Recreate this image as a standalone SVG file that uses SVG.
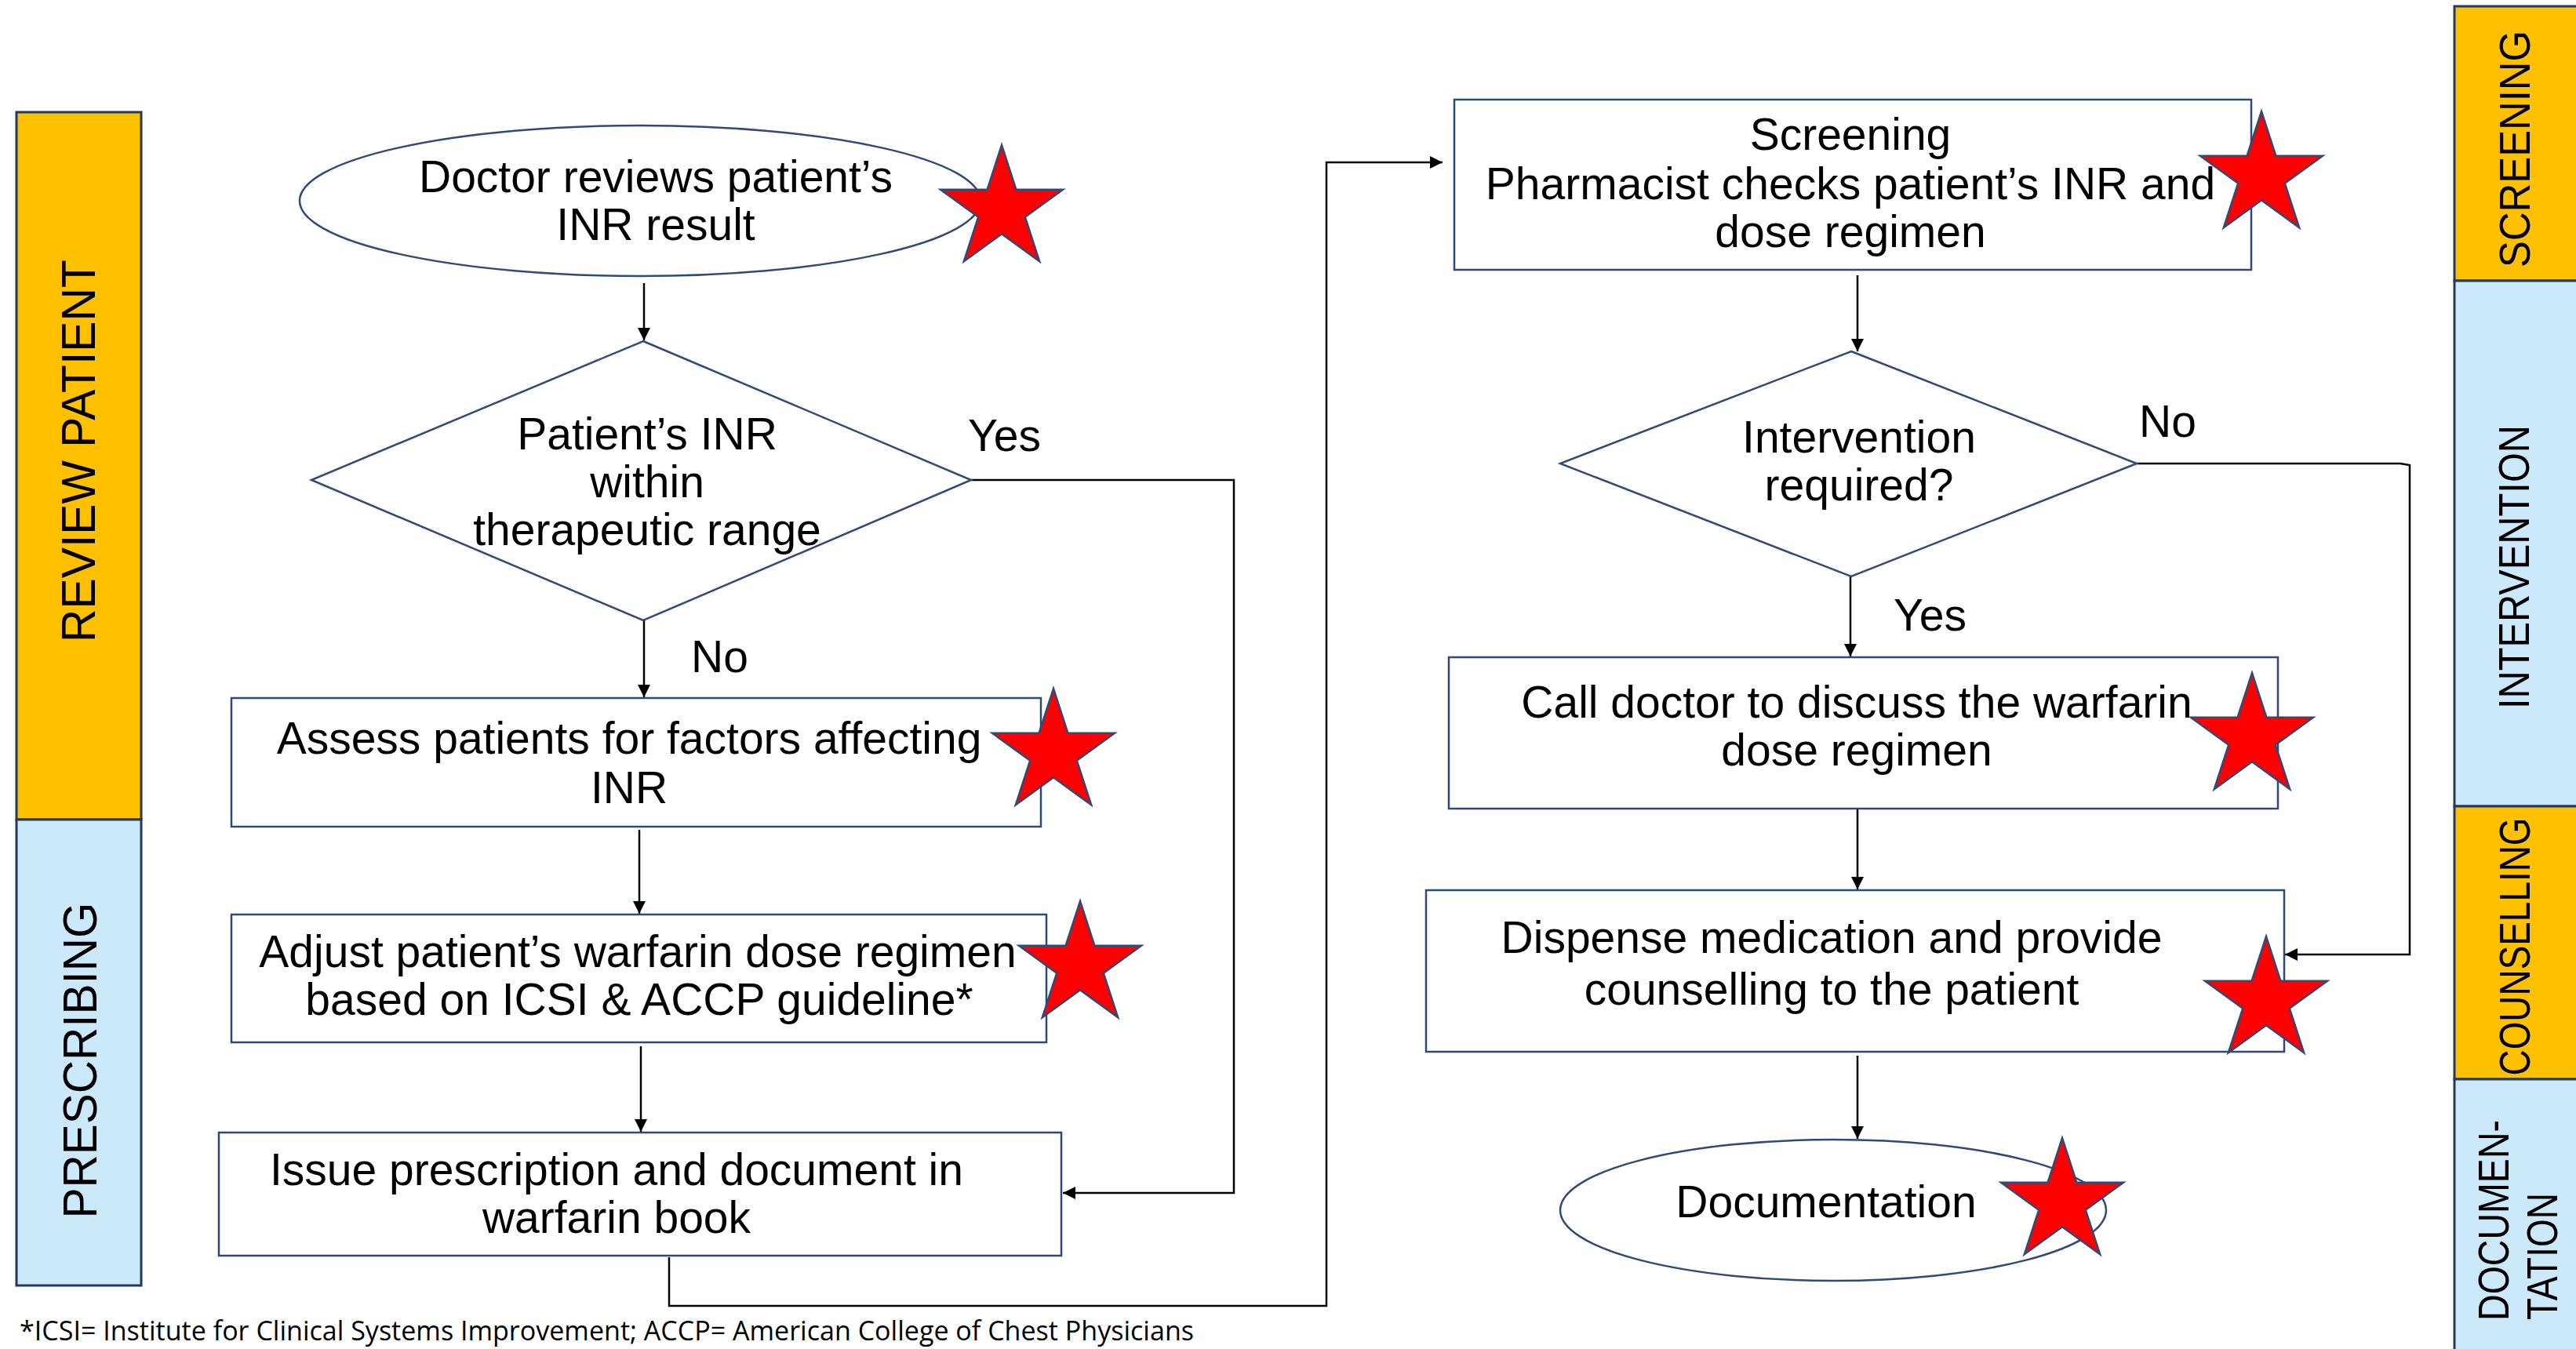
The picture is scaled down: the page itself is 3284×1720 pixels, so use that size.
<svg xmlns="http://www.w3.org/2000/svg" xmlns:xlink="http://www.w3.org/1999/xlink" width="3284" height="1720" viewBox="0 0 3284 1720">
<style>
.t{font-family:"Liberation Sans",Arial,sans-serif;font-size:57px;fill:#000;text-anchor:middle}
.lbl{font-family:"Liberation Sans",Arial,sans-serif;font-size:57px;fill:#000}
.band{font-family:"Liberation Sans",Arial,sans-serif;font-size:62px;fill:#000;text-anchor:middle}
.bandr{font-family:"Liberation Sans",Arial,sans-serif;font-size:56px;fill:#000;text-anchor:middle}
.shape{fill:#fff;stroke:#2F4A78;stroke-width:2.5}
.or{fill:#FFC000;stroke:#23395D;stroke-width:3}
.bl{fill:#CCE9FC;stroke:#23395D;stroke-width:3}
.c{fill:none;stroke:#000;stroke-width:2.5}
.foot{font-family:"Open Sans","Liberation Sans",sans-serif;font-size:35px;fill:#000}
</style>
<defs>
<marker id="arr" viewBox="0 0 10 10" refX="10" refY="5" markerWidth="16" markerHeight="16" markerUnits="userSpaceOnUse" orient="auto">
<path d="M0,0 L10,5 L0,10 Z" fill="#000"/>
</marker>
<path id="star" d="M0,-82 L18.4,-25.3 L78,-25.3 L29.8,9.7 L48.2,66.3 L0,31.3 L-48.2,66.3 L-29.8,9.7 L-78,-25.3 L-18.4,-25.3 Z" fill="#FF0000" stroke="#2F4A78" stroke-width="2.5" stroke-linejoin="miter"/>
</defs>
<rect width="3284" height="1720" fill="#fff"/>

<g id="band-review-patient">
<rect class="or" x="21" y="143" width="159" height="902"/>
<text class="band" transform="translate(121,575) rotate(-90)" textLength="488" lengthAdjust="spacingAndGlyphs">REVIEW PATIENT</text>
</g>
<g id="band-prescribing">
<rect class="bl" x="21" y="1045" width="159" height="594"/>
<text class="band" transform="translate(123,1352) rotate(-90)" textLength="403" lengthAdjust="spacingAndGlyphs">PRESCRIBING</text>
</g>
<g id="band-screening">
<rect class="or" x="3129" y="8" width="170" height="350"/>
<text class="bandr" transform="translate(3225,190) rotate(-90)" textLength="302" lengthAdjust="spacingAndGlyphs">SCREENING</text>
</g>
<g id="band-intervention">
<rect class="bl" x="3129" y="358" width="170" height="670"/>
<text class="bandr" transform="translate(3224,723) rotate(-90)" textLength="362" lengthAdjust="spacingAndGlyphs">INTERVENTION</text>
</g>
<g id="band-counselling">
<rect class="or" x="3129" y="1028" width="170" height="348"/>
<text class="bandr" transform="translate(3225,1207) rotate(-90)" textLength="329" lengthAdjust="spacingAndGlyphs">COUNSELLING</text>
</g>
<g id="band-documentation">
<rect class="bl" x="3129" y="1376" width="170" height="360"/>
<text class="bandr" transform="translate(3198,1556) rotate(-90)" textLength="256" lengthAdjust="spacingAndGlyphs">DOCUMEN-</text>
<text class="bandr" transform="translate(3260,1602) rotate(-90)" textLength="162" lengthAdjust="spacingAndGlyphs">TATION</text>
</g>

<g id="connectors">
<line class="c" x1="821" y1="361" x2="821" y2="434" marker-end="url(#arr)"/>
<line class="c" x1="821" y1="791" x2="821" y2="889" marker-end="url(#arr)"/>
<polyline class="c" points="1238,612 1573,612 1573,1521 1355,1521" marker-end="url(#arr)"/>
<line class="c" x1="815" y1="1058" x2="815" y2="1165" marker-end="url(#arr)"/>
<line class="c" x1="817" y1="1334" x2="817" y2="1443" marker-end="url(#arr)"/>
<polyline class="c" points="853,1603 853,1665 1691,1665 1691,207 1839,207" marker-end="url(#arr)"/>
<line class="c" x1="2368" y1="351" x2="2368" y2="448" marker-end="url(#arr)"/>
<polyline class="c" points="2724,591 3060,591 3072,593 3072,1217 2913,1217" marker-end="url(#arr)"/>
<line class="c" x1="2359" y1="735" x2="2359" y2="837" marker-end="url(#arr)"/>
<line class="c" x1="2368" y1="1032" x2="2368" y2="1134" marker-end="url(#arr)"/>
<line class="c" x1="2368" y1="1346" x2="2368" y2="1452" marker-end="url(#arr)"/>
<text class="lbl" x="1234" y="575">Yes</text>
<text class="lbl" x="881" y="857">No</text>
<text class="lbl" x="2727" y="557">No</text>
<text class="lbl" x="2414" y="804">Yes</text>
</g>

<g id="n-doctor-reviews">
<ellipse class="shape" cx="816" cy="256" rx="434" ry="96"/>
<text class="t" x="836" y="245">Doctor reviews patient’s</text>
<text class="t" x="836" y="306">INR result</text>
<use xlink:href="#star" href="#star" x="1277" y="267"/>
</g>

<g id="n-inr-in-range">
<polygon class="shape" points="820,435 1238,612 820,791 397,612"/>
<text class="t" x="825" y="573">Patient’s INR</text>
<text class="t" x="825" y="634">within</text>
<text class="t" x="825" y="695">therapeutic range</text>
</g>

<g id="n-assess">
<rect class="shape" x="295" y="890" width="1032" height="164"/>
<text class="t" x="802" y="961">Assess patients for factors affecting</text>
<text class="t" x="802" y="1024">INR</text>
<use xlink:href="#star" href="#star" x="1343" y="960"/>
</g>

<g id="n-adjust">
<rect class="shape" x="295" y="1166" width="1039" height="163"/>
<text class="t" x="813" y="1233">Adjust patient’s warfarin dose regimen</text>
<text class="t" x="815" y="1294">based on ICSI &amp; ACCP guideline*</text>
<use xlink:href="#star" href="#star" x="1377" y="1231"/>
</g>

<g id="n-issue">
<rect class="shape" x="279" y="1444" width="1074" height="157"/>
<text class="t" x="786" y="1511">Issue prescription and document in</text>
<text class="t" x="786" y="1572">warfarin book</text>
</g>

<g id="n-screening">
<rect class="shape" x="1854" y="127" width="1016" height="217"/>
<text class="t" x="2359" y="191">Screening</text>
<text class="t" x="2359" y="254">Pharmacist checks patient’s INR and</text>
<text class="t" x="2359" y="315">dose regimen</text>
<use xlink:href="#star" href="#star" x="2883" y="224"/>
</g>

<g id="n-intervention-required">
<polygon class="shape" points="2360,448 2724,591 2360,735 1989,591"/>
<text class="t" x="2370" y="577">Intervention</text>
<text class="t" x="2370" y="638">required?</text>
</g>

<g id="n-call-doctor">
<rect class="shape" x="1847" y="838" width="1057" height="193"/>
<text class="t" x="2367" y="915">Call doctor to discuss the warfarin</text>
<text class="t" x="2367" y="976">dose regimen</text>
<use xlink:href="#star" href="#star" x="2871" y="940"/>
</g>

<g id="n-dispense">
<rect class="shape" x="1818" y="1135" width="1094" height="206"/>
<text class="t" x="2335" y="1215">Dispense medication and provide</text>
<text class="t" x="2335" y="1281">counselling to the patient</text>
<use xlink:href="#star" href="#star" x="2889" y="1276"/>
</g>

<g id="n-documentation">
<ellipse class="shape" cx="2337" cy="1543" rx="348" ry="90"/>
<text class="t" x="2328" y="1552">Documentation</text>
<use xlink:href="#star" href="#star" x="2629" y="1533"/>
</g>

<text class="foot" x="25" y="1709" textLength="1497" lengthAdjust="spacingAndGlyphs">*ICSI= Institute for Clinical Systems Improvement; ACCP= American College of Chest Physicians</text>
</svg>
